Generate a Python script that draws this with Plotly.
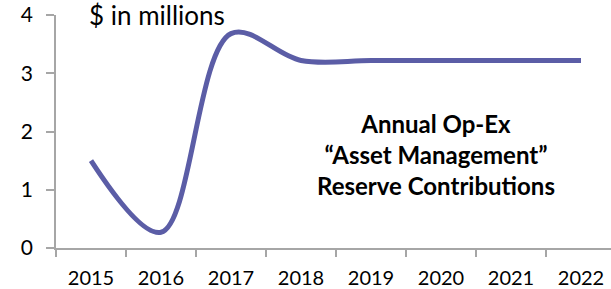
import plotly.graph_objects as go

years = ["2015", "2016", "2017", "2018", "2019", "2020", "2021", "2022"]
values = [1.5, 0.27, 3.68, 3.22, 3.22, 3.22, 3.22, 3.22]
y_ticks = [0, 1, 2, 3, 4]

FONT = "Lato"
fig = go.Figure()
fig.add_trace(go.Scatter(
    x=years, y=values, mode="lines",
    line=dict(color="#5B5DA6", width=5, shape="spline", smoothing=1.0),
    hoverinfo="skip",
))

fig.update_layout(
    width=611, height=289,
    margin=dict(l=56, r=0, t=15, b=41),
    paper_bgcolor="white", plot_bgcolor="white",
    showlegend=False,
    font=dict(family=FONT, color="#000000", size=20),
    annotations=[
        dict(text="$ in millions", xref="paper", yref="paper",
             x=0.055, y=1.078, xanchor="left", yanchor="top",
             showarrow=False, font=dict(family=FONT, size=26, color="#000")),
        dict(text="<b>Annual Op-Ex<br>“Asset Management”<br>Reserve Contributions</b>",
             xref="paper", yref="paper", x=0.685, y=0.40,
             xanchor="center", yanchor="middle", showarrow=False,
             font=dict(family=FONT, size=24, color="#000")),
    ],
)
fig.update_xaxes(
    type="category", range=[-0.5, 7.4286], tickson="boundaries",
    showline=True, linecolor="#A6A6A6", linewidth=1.5,
    ticks="outside", ticklen=7, tickcolor="#A6A6A6", tickwidth=1.5,
    showgrid=False, zeroline=False, tickfont=dict(size=20),
    ticklabelstandoff=11,
)
fig.update_yaxes(
    range=[0, 4], tickvals=y_ticks,
    showline=True, linecolor="#A6A6A6", linewidth=1.5,
    ticks="outside", ticklen=8, tickcolor="#A6A6A6", tickwidth=1.5,
    showgrid=False, zeroline=False, tickfont=dict(size=21),
    ticklabelstandoff=9,
)

fig.write_html("out.html", config={"displayModeBar": False},
               post_script="document.body.style.margin='0px';")
